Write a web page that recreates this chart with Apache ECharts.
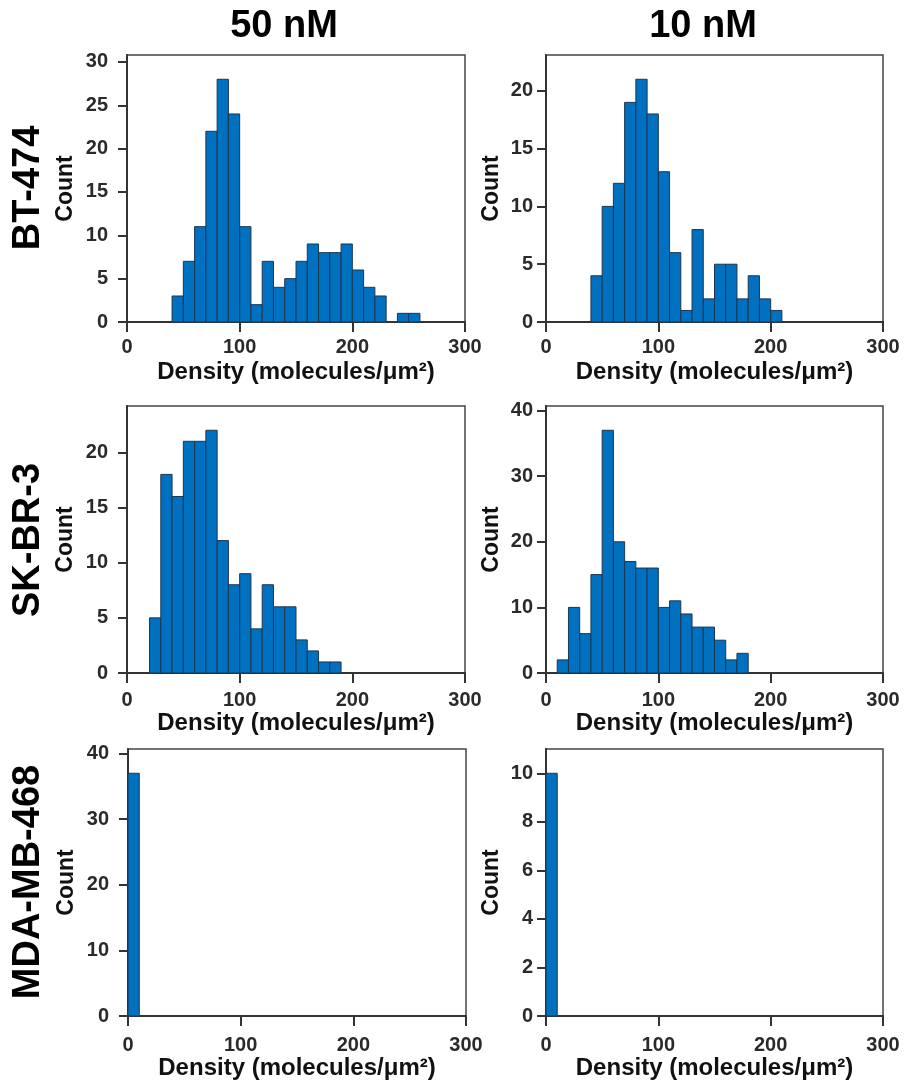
<!DOCTYPE html>
<html>
<head>
<meta charset="utf-8">
<script src="https://cdn.jsdelivr.net/npm/echarts@6/dist/echarts.min.js"></script>
<style>
  html, body { margin: 0; padding: 0; background: #fff; }
  #main { width: 904px; height: 1083px; }
</style>
</head>
<body>
<div id="main"></div>
<script>
// bin edges and counts
var bt474_50nM_edges = [40,50,60,70,80,90,100,110,120,130,140,150,160,170,180,190,200,210,220,230,240,250,260];
var bt474_50nM_counts = [3,7,11,22,28,24,11,2,7,4,5,7,9,8,8,9,6,4,3,0,1,1];

var bt474_10nM_edges = [40,50,60,70,80,90,100,110,120,130,140,150,160,170,180,190,200,210];
var bt474_10nM_counts = [4,10,12,19,21,18,13,6,1,8,2,5,5,2,4,2,1];

var skbr3_50nM_edges = [20,30,40,50,60,70,80,90,100,110,120,130,140,150,160,170,180,190];
var skbr3_50nM_counts = [5,18,16,21,21,22,12,8,9,4,8,6,6,3,2,1,1];

var skbr3_10nM_edges = [10,20,30,40,50,60,70,80,90,100,110,120,130,140,150,160,170,180];
var skbr3_10nM_counts = [2,10,6,15,37,20,17,16,16,10,11,9,7,7,5,2,3];

var mda468_50nM_edges = [0,10];
var mda468_50nM_counts = [37];

var mda468_10nM_edges = [0,10];
var mda468_10nM_counts = [10];

// tick labels
var xTicks = [0,100,200,300];
var yTicks30 = [0,5,10,15,20,25,30];
var yTicks20 = [0,5,10,15,20];
var yTicks40 = [0,10,20,30,40];
var yTicks10 = [0,2,4,6,8,10];

var colTitles = ['50 nM', '10 nM'];
var rowTitles = ['BT-474', 'SK-BR-3', 'MDA-MB-468'];

var FONT = '"Liberation Sans", Arial, Helvetica, sans-serif';

var panels = [
  {edges: bt474_50nM_edges, counts: bt474_50nM_counts, ymax: 30.8, ticks: yTicks30, grid: [127, 55, 338, 267], col: 0, row: 0},
  {edges: bt474_10nM_edges, counts: bt474_10nM_counts, ymax: 23.1, ticks: yTicks20, grid: [546, 55, 337, 267], col: 1, row: 0},
  {edges: skbr3_50nM_edges, counts: skbr3_50nM_counts, ymax: 24.2, ticks: yTicks20, grid: [127, 406, 338, 267], col: 0, row: 1},
  {edges: skbr3_10nM_edges, counts: skbr3_10nM_counts, ymax: 40.7, ticks: yTicks40, grid: [546, 406, 337, 267], col: 1, row: 1},
  {edges: mda468_50nM_edges, counts: mda468_50nM_counts, ymax: 40.7, ticks: yTicks40, grid: [128, 749, 338, 267], col: 0, row: 2},
  {edges: mda468_10nM_edges, counts: mda468_10nM_counts, ymax: 11, ticks: yTicks10, grid: [546, 749, 337, 267], col: 1, row: 2}
];

var xLabelMargin = [15, 17, 19];
var yLabelMargin = [19, 13];
var yNameGap = [50, 43];

function renderBin(params, api) {
  var c = api.value(2);
  if (!c) return null;
  var p0 = api.coord([api.value(0), c]);
  var p1 = api.coord([api.value(1), 0]);
  return {
    type: 'rect',
    shape: {x: p0[0], y: p0[1], width: p1[0] - p0[0], height: p1[1] - p0[1]},
    style: {fill: '#0070c0', stroke: '#1c3650', lineWidth: 1}
  };
}

var grids = [], xAxes = [], yAxes = [], series = [];
panels.forEach(function (p, i) {
  grids.push({
    left: p.grid[0], top: p.grid[1], width: p.grid[2], height: p.grid[3],
    show: true, borderColor: '#444', borderWidth: 1.5, backgroundColor: '#fff'
  });
  xAxes.push({
    gridIndex: i, type: 'value', min: 0, max: 300, interval: 100,
    name: 'Density (molecules/μm²)', nameLocation: 'middle', nameGap: 38,
    nameTextStyle: {fontFamily: FONT, fontSize: 24, fontWeight: 'bold', color: '#111'},
    axisLine: {show: true, lineStyle: {color: '#333', width: 2}},
    axisTick: {show: true, length: 10, lineStyle: {color: '#333', width: 2}, customValues: xTicks},
    axisLabel: {margin: xLabelMargin[p.row], fontFamily: FONT, fontSize: 20, fontWeight: 'bold', color: '#2a2a2a', customValues: xTicks},
    splitLine: {show: false}
  });
  yAxes.push({
    gridIndex: i, type: 'value', min: 0, max: p.ymax,
    name: 'Count', nameLocation: 'middle', nameGap: yNameGap[p.col],
    nameTextStyle: {fontFamily: FONT, fontSize: 23, fontWeight: 'bold', color: '#111'},
    axisLine: {show: true, lineStyle: {color: '#333', width: 2}},
    axisTick: {show: true, length: 9, lineStyle: {color: '#333', width: 2}, customValues: p.ticks},
    axisLabel: {margin: yLabelMargin[p.col], fontFamily: FONT, fontSize: 20, fontWeight: 'bold', color: '#2a2a2a', customValues: p.ticks},
    splitLine: {show: false}
  });
  var data = [];
  for (var k = 0; k < p.counts.length; k++) {
    data.push([p.edges[k], p.edges[k + 1], p.counts[k]]);
  }
  series.push({
    type: 'custom', xAxisIndex: i, yAxisIndex: i,
    renderItem: renderBin, encode: {x: [0, 1], y: 2},
    data: data, silent: true, z: 1
  });
});

var graphics = [];
var titleX = [284, 703];
colTitles.forEach(function (t, j) {
  graphics.push({
    type: 'text', x: titleX[j], y: 27,
    style: {text: t, font: 'bold 38px ' + FONT, fill: '#000', align: 'center', verticalAlign: 'middle'}
  });
});
var rowY = [188, 540, 882];
rowTitles.forEach(function (t, j) {
  graphics.push({
    type: 'text', x: 29, y: rowY[j], rotation: Math.PI / 2,
    style: {text: t, font: 'bold 38px ' + FONT, fill: '#000', align: 'center', verticalAlign: 'middle'}
  });
});

var chart = echarts.init(document.getElementById('main'));
chart.setOption({
  animation: false,
  backgroundColor: '#fff',
  grid: grids,
  xAxis: xAxes,
  yAxis: yAxes,
  series: series,
  graphic: graphics
});
</script>
</body>
</html>
